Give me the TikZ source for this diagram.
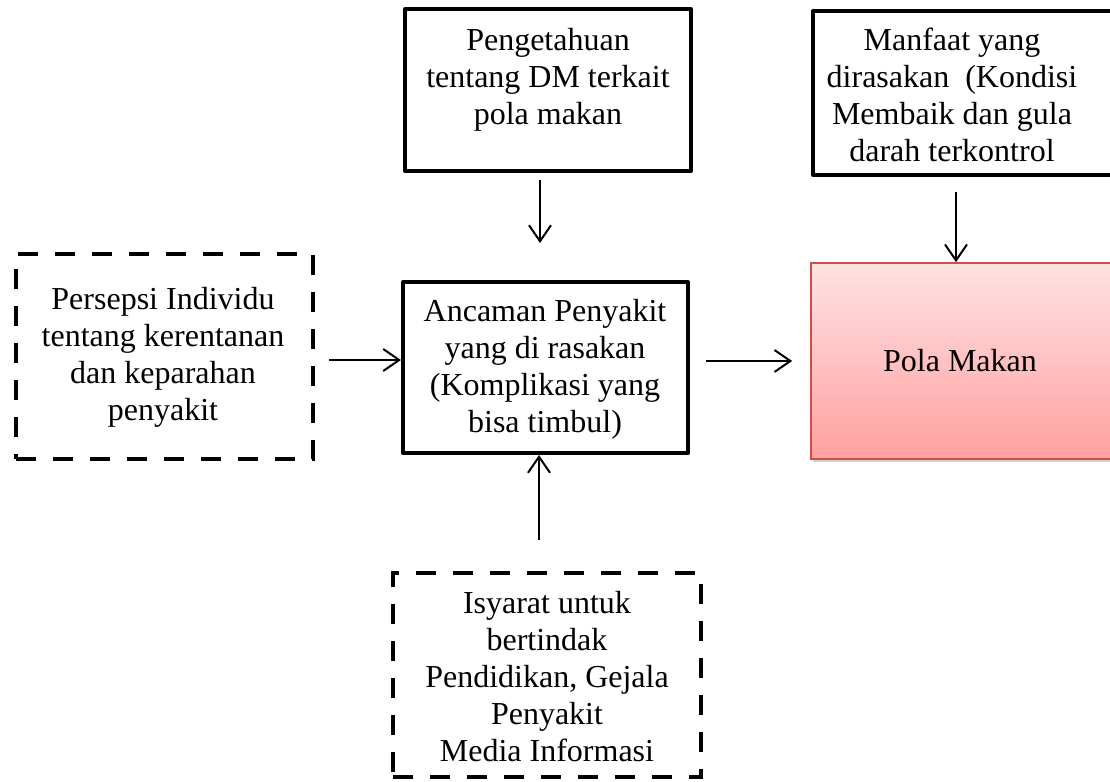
\documentclass[tikz,border=0pt]{standalone}
\usepackage{fontspec}
\setmainfont{Liberation Serif}
\usetikzlibrary{arrows.meta,shadows}
\definecolor{pinktop}{RGB}{255,226,228}
\definecolor{pinkbot}{RGB}{255,160,159}
\definecolor{pinkborder}{RGB}{200,80,77}
\begin{document}
\begin{tikzpicture}[x=0.5pt,y=-0.5pt,
  solidbox/.style={draw, line width=2pt, line join=round, inner sep=0pt},
  dashbox/.style={draw, line width=2pt, dash pattern=on 10pt off 8.5pt, inner sep=0pt},
  txt/.style={align=center, font=\fontsize{16}{18.5}\selectfont, inner sep=0pt},
  arr/.style={-{Straight Barb[length=8pt,width=11pt]}, line width=1pt},
  pinkbox/.style={draw=pinkborder, line width=0.8pt, top color=pinktop, bottom color=pinkbot,
    drop shadow={shadow xshift=0.8pt, shadow yshift=-1.5pt, fill=black, opacity=0.18}, inner sep=0pt}
]
\useasboundingbox (0,0) rectangle (1110,782);

% boxes
\node[solidbox, minimum width=143pt, minimum height=81pt] (peng) at (548,90) {};
\node[txt] (pengt) at (548,80) {Pengetahuan\\tentang DM terkait\\pola makan};

\node[solidbox, minimum width=150.5pt, minimum height=82pt] (manf) at (963.5,93) {};
\node[txt] (manft) at (952,95) {Manfaat yang\\dirasakan\ \ (Kondisi\\Membaik dan gula\\darah terkontrol};

\node[solidbox, minimum width=142.5pt, minimum height=85.5pt] (mid) at (545.5,367.5) {};
\node[txt] (midt) at (545,369) {Ancaman Penyakit\\yang di rasakan\\(Komplikasi yang\\bisa timbul)};

\node[dashbox, minimum width=148.5pt, minimum height=102.5pt] (left) at (164.5,356.5) {};
\node[txt] (leftt) at (163,357) {Persepsi Individu\\tentang kerentanan\\dan keparahan\\penyakit};

\node[dashbox, minimum width=154pt, minimum height=102pt] (bot) at (547,675) {};
\node[txt] (bott) at (547,677) {Isyarat untuk\\bertindak\\Pendidikan, Gejala\\Penyakit\\Media Informasi};

\node[pinkbox, minimum width=151.5pt, minimum height=98pt] (pola) at (962.5,361) {};
\node[txt] (polat) at (960,361) {Pola Makan};

% connectors
\draw[arr, shorten <=3.5pt, shorten >=18.5pt] ([xshift=-4pt]peng.south) -- ([xshift=-2.75pt]mid.north);
\draw[arr, shorten <=15.5pt] ([xshift=-4pt]bot.north) -- ([xshift=-3.25pt]mid.south);
\draw[arr, shorten <=7pt] ([yshift=-1.75pt]left.east) -- ([yshift=3.75pt]mid.west);
\draw[arr, shorten <=8pt, shorten >=9pt] ([yshift=3.25pt]mid.east) -- (pola.west);
\draw[arr, shorten <=7.5pt] ([xshift=-3.75pt]manf.south) -- ([xshift=-3.25pt]pola.north);
\end{tikzpicture}
\end{document}
